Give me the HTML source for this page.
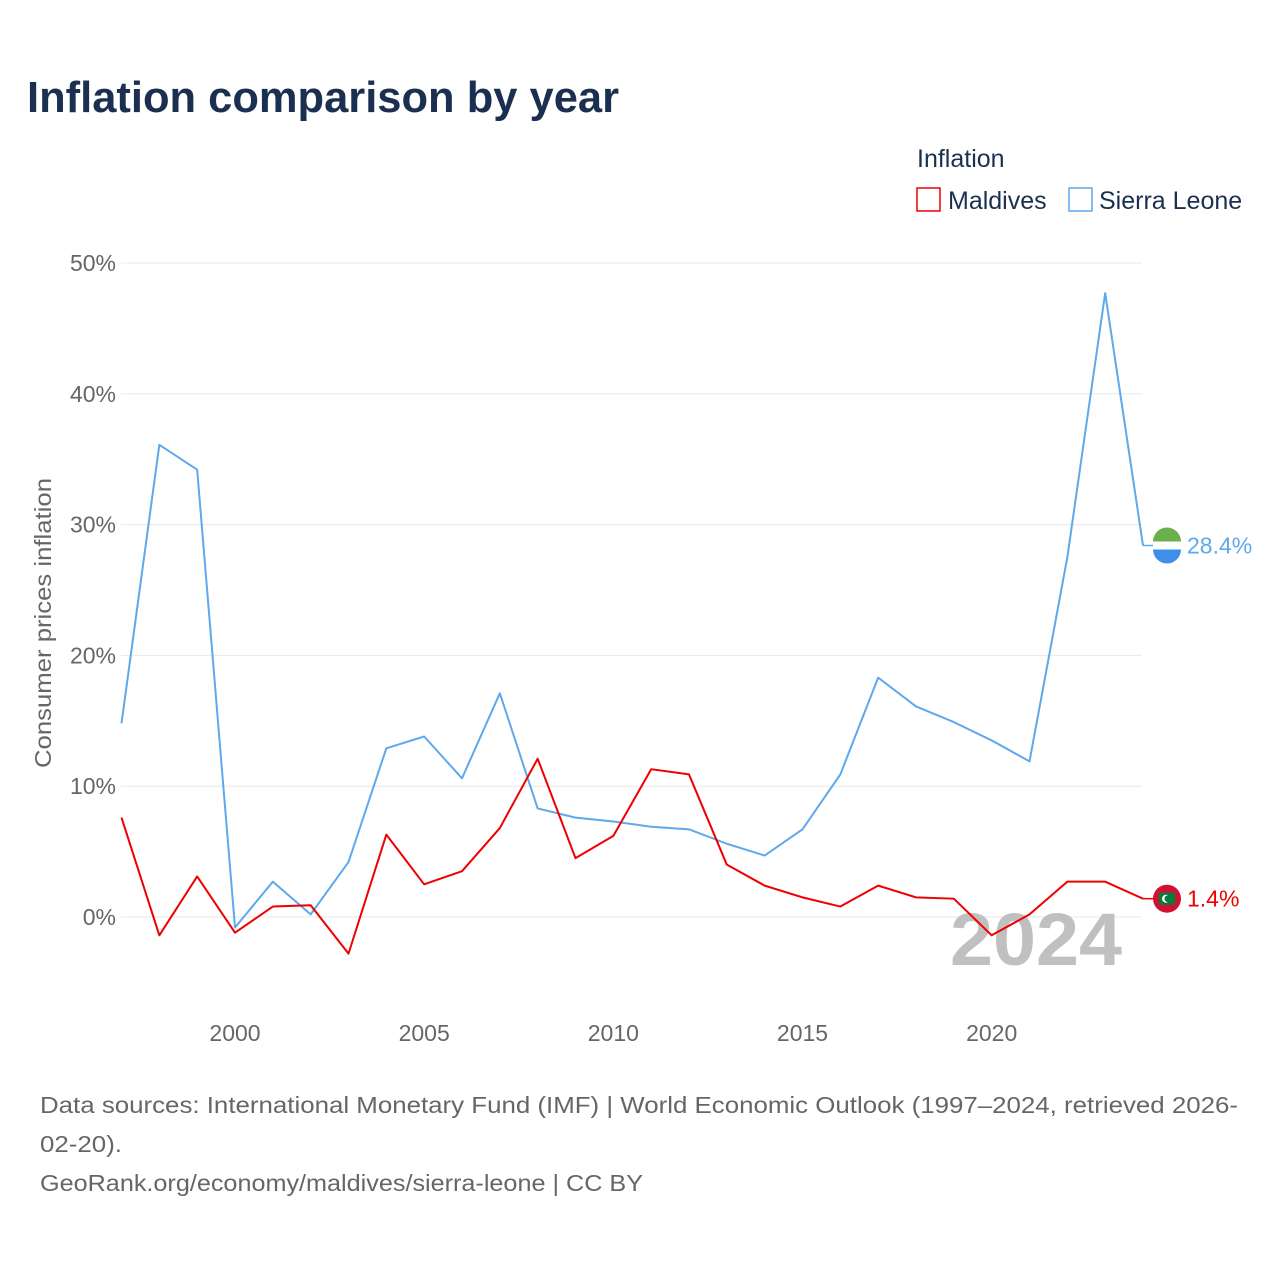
<!DOCTYPE html>
<html><head><meta charset="utf-8"><style>
body{margin:0;background:#fff;font-family:"Liberation Sans",sans-serif;}
#wrap{position:relative;width:1280px;height:1280px;overflow:hidden;}
</style></head><body>
<div id="wrap">
<svg id="chart" width="1280" height="1280"></svg>
</div>
<script>
const years=[1997,1998,1999,2000,2001,2002,2003,2004,2005,2006,2007,2008,2009,2010,2011,2012,2013,2014,2015,2016,2017,2018,2019,2020,2021,2022,2023,2024];
const sierraLeone=[14.8,36.1,34.2,-0.8,2.7,0.2,4.2,12.9,13.8,10.6,17.1,8.3,7.6,7.3,6.9,6.7,5.6,4.7,6.7,10.9,18.3,16.1,14.9,13.5,11.9,27.5,47.7,28.4];
const maldives=[7.6,-1.4,3.1,-1.2,0.8,0.9,-2.8,6.3,2.5,3.5,6.8,12.1,4.5,6.2,11.3,10.9,4.0,2.4,1.5,0.8,2.4,1.5,1.4,-1.4,0.2,2.7,2.7,1.4];
const yTicks=[0,10,20,30,40,50];
const xTicks=[2000,2005,2010,2015,2020];

const NS="http://www.w3.org/2000/svg";
const svg=document.getElementById('chart');
const x=v=>121.5+(v-1997)*(1143-121.5)/27;
const y=v=>917-v*13.08;
function el(t,a,txt){const e=document.createElementNS(NS,t);for(const k in a)e.setAttribute(k,a[k]);if(txt!==undefined)e.textContent=txt;svg.appendChild(e);return e;}
const F='"Liberation Sans",sans-serif';

let e=el('text',{x:27,y:112,'font-size':44,'font-weight':'bold',fill:'#1b3050','font-family':F,textLength:592,lengthAdjust:'spacingAndGlyphs'},'Inflation comparison by year');


e=el('text',{x:917,y:167,'font-size':25,fill:'#1b3050','font-family':F},'Inflation');

e=el('rect',{x:917,y:188,width:23,height:23,fill:'none',stroke:'#ee0000','stroke-width':1.5});

e=el('text',{x:948,y:209,'font-size':25,fill:'#1b3050','font-family':F},'Maldives');

e=el('rect',{x:1069,y:188,width:23,height:23,fill:'none',stroke:'#5ea8ec','stroke-width':1.5});

e=el('text',{x:1099,y:209,'font-size':25,fill:'#1b3050','font-family':F},'Sierra Leone');


yTicks.forEach(t=>{
  let g=el('line',{x1:121,x2:1142,y1:y(t),y2:y(t),stroke:'#e8e8e8','stroke-width':1});
  
  let l=el('text',{x:116,y:y(t)+8,'text-anchor':'end','font-size':23,fill:'#666','font-family':F},t+'%');
  
});
xTicks.forEach(t=>{
  let l=el('text',{x:x(t),y:1041,'text-anchor':'middle','font-size':23,fill:'#666','font-family':F},t);
  
});
e=el('text',{x:0,y:0,transform:'translate(51,623) rotate(-90)','text-anchor':'middle','font-size':23,fill:'#666','font-family':F,textLength:290,lengthAdjust:'spacingAndGlyphs'},'Consumer prices inflation');


e=el('text',{x:950,y:965,'font-size':74,'font-weight':'bold',fill:'#c0c0c0','font-family':F,textLength:172,lengthAdjust:'spacingAndGlyphs'},'2024');


function series(vals,color,name){
  const p=el('polyline',{points:vals.map((v,i)=>x(years[i])+','+y(v)).join(' '),fill:'none',stroke:color,'stroke-width':2,'stroke-linejoin':'round'});
  
  const lv=vals[vals.length-1];
  const c=el('line',{x1:x(2024),x2:1155,y1:y(lv),y2:y(lv),stroke:color,'stroke-width':1.5});
  
  const lb=el('text',{x:1187,y:y(lv)+8,'font-size':23,fill:color,'font-family':F},lv.toFixed(1)+'%');
  
  return y(lv);
}
const ys=series(sierraLeone,'#5ea8ec','sierra-leone');
const ym=series(maldives,'#ee0000','maldives');

let cy=ys;
let g=el('circle',{cx:1167,cy:cy,r:14,fill:'#fff'});
g=el('path',{d:`M1153,${cy-4} A14,14 0 0 1 1181,${cy-4} Z`,fill:'#6ab04c'});
g=el('path',{d:`M1153,${cy+4} A14,14 0 0 0 1181,${cy+4} Z`,fill:'#3d8fe8'});
cy=ym;
g=el('circle',{cx:1167,cy:cy,r:14,fill:'#d21034'});
g=el('rect',{x:1159,y:cy-6,width:16,height:12,fill:'#007e3a'});
g=el('circle',{cx:1166,cy:cy,r:4,fill:'#fff'});
g=el('circle',{cx:1168,cy:cy,r:3.5,fill:'#007e3a'});

const foot=['Data sources: International Monetary Fund (IMF) | World Economic Outlook (1997–2024, retrieved 2026-','02-20).','GeoRank.org/economy/maldives/sierra-leone | CC BY'];
const footLen=[1198,82,603];
foot.forEach((t,i)=>{
  let f=el('text',{x:40,y:1113+i*39,'font-size':23,fill:'#666','font-family':F,textLength:footLen[i],lengthAdjust:'spacingAndGlyphs'},t);
  
});
</script>
</body></html>
